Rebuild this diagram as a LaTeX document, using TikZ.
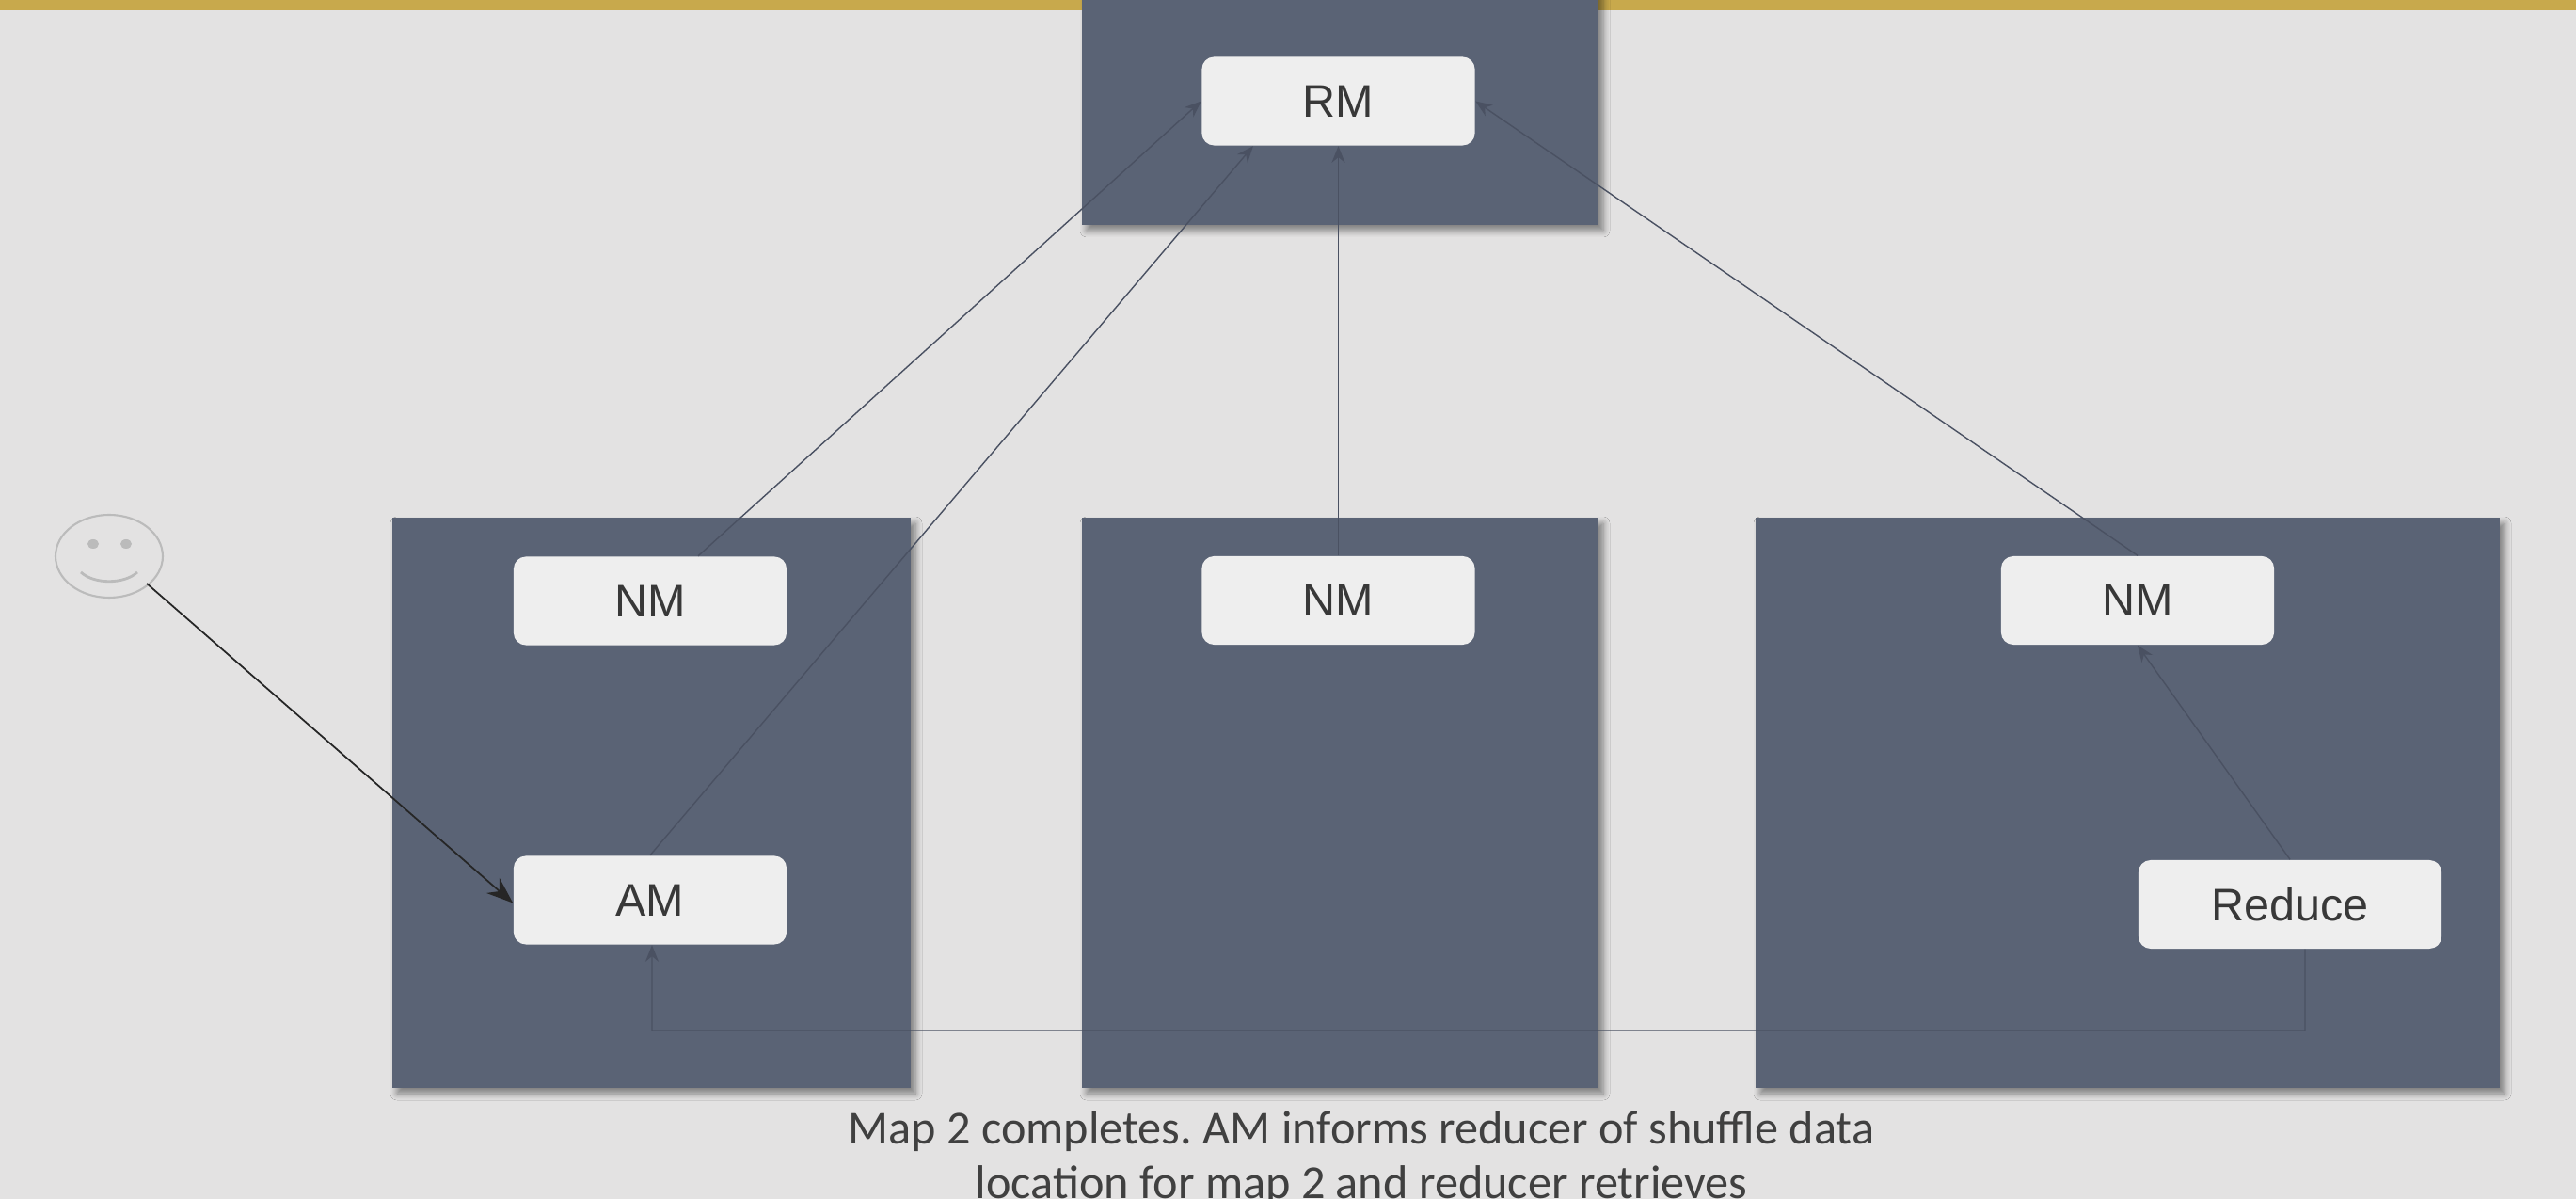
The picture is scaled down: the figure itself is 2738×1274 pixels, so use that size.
\documentclass[tikz,border=0pt]{standalone}
\usepackage{fontspec}
\setmainfont{Liberation Sans}
\newfontfamily\capfont{Carlito}
\usetikzlibrary{arrows.meta,shadows.blur,calc}
\definecolor{bgc}{HTML}{E3E2E2}
\definecolor{hostc}{HTML}{5A6375}
\definecolor{tagc}{HTML}{EEEEEE}
\definecolor{goldc}{HTML}{C8A94C}
\definecolor{linkc}{HTML}{4A5162}
\definecolor{facec}{HTML}{BBBBBB}
\tikzset{
  x=0.01cm,y=-0.01cm,
  hostbox/.style={fill=hostc,draw=none,blur shadow={shadow xshift=0.05cm,shadow yshift=-0.06cm,shadow blur steps=6,shadow blur radius=0.07cm,shadow opacity=45}},
  tagbox/.style={fill=tagc,draw=none,rounded corners=0.13cm,minimum width=2.9cm,minimum height=0.94cm,inner sep=0pt,font=\fontsize{13.8}{16}\selectfont,text=black!78},
  link/.style={draw=linkc,line width=0.4pt,-{Stealth[length=5pt,width=4pt]}},
  userlink/.style={draw=black!85,line width=0.5pt,-{Stealth[length=8pt,width=6pt]}},
  facepart/.style={draw=facec,line width=0.6pt},
  caption/.style={font=\capfont\fontsize{14.3}{16.5}\selectfont\frenchspacing,text=black!75,align=center,inner sep=0pt}
}
\begin{document}
\begin{tikzpicture}
\useasboundingbox (0,0) rectangle (2738,1274);
\fill[bgc] (0,0) rectangle (2738,1274);
\fill[goldc] (0,0) rectangle (2738,11);
% hosts
\begin{scope}
\clip (0,0) rectangle (2738,1274);
\path[hostbox] (1150,-40) rectangle (1699,239);
\end{scope}
\path[hostbox] (417,550) rectangle (968,1156);
\path[hostbox] (1150,550) rectangle (1699,1156);
\path[hostbox] (1866,550) rectangle (2657,1156);
% tags
\node[tagbox] (rm) at (1422.5,107.5) {RM};
\node[tagbox] (nma) at (691,638.5) {NM};
\node[tagbox] (nmb) at (1422.5,638) {NM};
\node[tagbox] (nmc) at (2272,638) {NM};
\node[tagbox] (am) at (691,956.5) {AM};
\node[tagbox,minimum width=3.22cm] (reduce) at (2434,961) {Reduce};
% smiley
\draw[facepart] (116,591) ellipse [x radius=57,y radius=44];
\fill[facec] (99,578) ellipse [x radius=6,y radius=5];
\fill[facec] (134,578) ellipse [x radius=6,y radius=5];
\draw[facepart,line width=0.8pt] (86,608) .. controls (100,621) and (132,621) .. (146,608);
\coordinate (smile) at (156,620);
\coordinate (bus) at (693,1095);
% connectors
\draw[userlink] (smile) -- ([yshift=-0.03cm]am.west);
\draw[link] ([xshift=0.51cm]nma.north) -- (rm.west);
\draw[link] (am.north) -- ([xshift=-0.905cm]rm.south);
\draw[link] (nmb.north) -- (rm.south);
\draw[link] (nmc.north) -- (rm.east);
\draw[link] (reduce.north) -- (nmc.south);
\draw[link] ([xshift=0.16cm]reduce.south) |- (bus) -- ([xshift=0.02cm]am.south);
% caption
\node[caption] (cap) at (1447,1231) {Map 2 completes. AM informs reducer of shuffle data\\location for map 2 and reducer retrieves};
\end{tikzpicture}
\end{document}
